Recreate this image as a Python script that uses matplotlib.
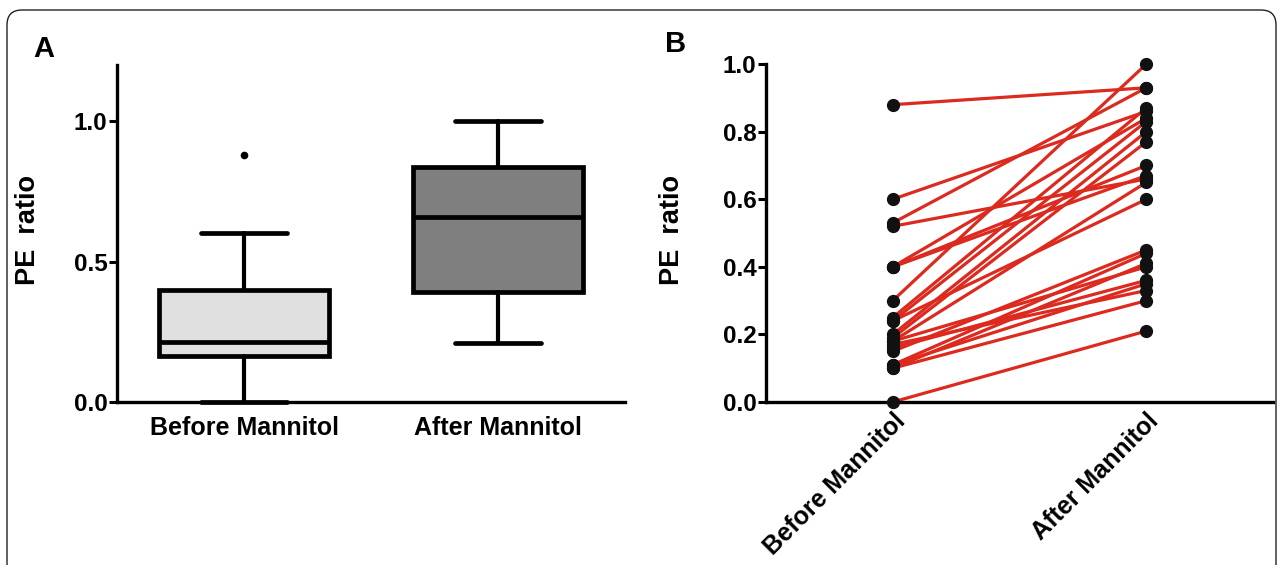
import matplotlib
matplotlib.use("Agg")
import matplotlib.pyplot as plt
from matplotlib.patches import FancyBboxPatch

plt.rcParams["font.family"] = ["Liberation Sans", "DejaVu Sans"]
plt.rcParams["font.weight"] = "bold"

# ---- data ----
groups = ["Before Mannitol", "After Mannitol"]

# panel A: box summary
box_med = [0.215, 0.66]
box_q1 = [0.165, 0.39]
box_q3 = [0.40, 0.835]
box_lo = [0.0, 0.21]
box_hi = [0.60, 1.0]
box_fliers = [[0.88], []]
box_colors = ["#e0e0e0", "#7f7f7f"]

# panel B: paired values per subject
before = [0.88, 0.53, 0.30, 0.60, 0.52, 0.40, 0.40, 0.40, 0.25, 0.24, 0.20, 0.19,
          0.18, 0.24, 0.15, 0.11, 0.10, 0.18, 0.16, 0.11, 0.17, 0.10, 0.00]
after = [0.93, 0.93, 1.00, 0.86, 0.66, 0.70, 0.67, 0.84, 0.87, 0.83, 0.80, 0.77,
         0.65, 0.60, 0.45, 0.44, 0.41, 0.40, 0.36, 0.35, 0.33, 0.30, 0.21]

fig = plt.figure(figsize=(12.82, 5.65), dpi=100)

# rounded frame around the figure (open past the bottom edge)
frame = FancyBboxPatch((0.07, -0.3), 12.69, 5.85,
                       boxstyle="round,pad=0,rounding_size=0.15",
                       transform=fig.dpi_scale_trans, fill=False,
                       edgecolor="#222222", linewidth=1.0)
fig.patches.append(frame)


def _style(ax):
    for s in ("top", "right"):
        ax.spines[s].set_visible(False)
    for s in ("left", "bottom"):
        ax.spines[s].set_linewidth(2.4)
    ax.tick_params(axis="y", direction="out", length=6, width=2.2,
                   labelsize=17.5, pad=1)
    ax.tick_params(axis="x", length=0, labelsize=18)


# ---- panel A ----
axA = fig.add_axes([0.0913, 0.2885, 0.3963, 0.5965])
stats = []
for i in range(2):
    stats.append(dict(med=box_med[i], q1=box_q1[i], q3=box_q3[i],
                      whislo=box_lo[i], whishi=box_hi[i], fliers=box_fliers[i],
                      label=groups[i]))
bp = axA.bxp(stats, positions=[1, 2], widths=0.67, patch_artist=True,
             boxprops=dict(linewidth=3.4, edgecolor="black"),
             medianprops=dict(color="black", linewidth=3.4),
             whiskerprops=dict(color="black", linewidth=3.0),
             capprops=dict(color="black", linewidth=3.4),
             capwidths=0.34,
             flierprops=dict(marker="o", markersize=4.5, markerfacecolor="black",
                             markeredgecolor="black"))
for patch, c in zip(bp["boxes"], box_colors):
    patch.set_facecolor(c)
for ln in bp["caps"] + bp["whiskers"]:
    ln.set_solid_capstyle("round")
    ln.set_clip_on(False)
axA.set_xlim(0.5, 2.5)
axA.set_ylim(0, 1.2)
axA.set_yticks([0.0, 0.5, 1.0])
axA.set_yticklabels(["0.0", "0.5", "1.0"])
_style(axA)
axA.tick_params(axis="x", pad=10)
for t in axA.get_xticklabels() + axA.get_yticklabels():
    t.set_fontweight("bold")
axA.set_ylabel("PE  ratio", fontsize=19.5, fontweight="bold")
axA.yaxis.set_label_coords(-0.15, 0.51)

# ---- panel B ----
axB = fig.add_axes([0.5975, 0.2885, 0.3955, 0.598])
for b, a in zip(before, after):
    axB.plot([1, 2], [b, a], color="#dc2a1f", linewidth=2.3, zorder=2)
axB.plot([1] * len(before), before, "o", color="#111111", markersize=8.5,
         zorder=3, clip_on=False)
axB.plot([2] * len(after), after, "o", color="#111111", markersize=8.5,
         zorder=3, clip_on=False)
axB.set_xlim(0.5, 2.5)
axB.set_ylim(0, 1.0)
axB.set_yticks([0.0, 0.2, 0.4, 0.6, 0.8, 1.0])
axB.set_yticklabels(["0.0", "0.2", "0.4", "0.6", "0.8", "1.0"])
axB.set_xticks([1, 2])
axB.set_xticklabels(groups, rotation=45, ha="right", va="top",
                    rotation_mode="anchor", fontweight="bold")
_style(axB)
axB.tick_params(axis="x", pad=5)
for t in axB.get_yticklabels():
    t.set_fontweight("bold")
axB.set_ylabel("PE  ratio", fontsize=19.5, fontweight="bold")
axB.yaxis.set_label_coords(-0.16, 0.51)

fig.text(0.0257, 0.938, "A", fontsize=21, fontweight="bold", va="top")
fig.text(0.519, 0.947, "B", fontsize=21, fontweight="bold", va="top")

fig.savefig("out.png", dpi=100)
